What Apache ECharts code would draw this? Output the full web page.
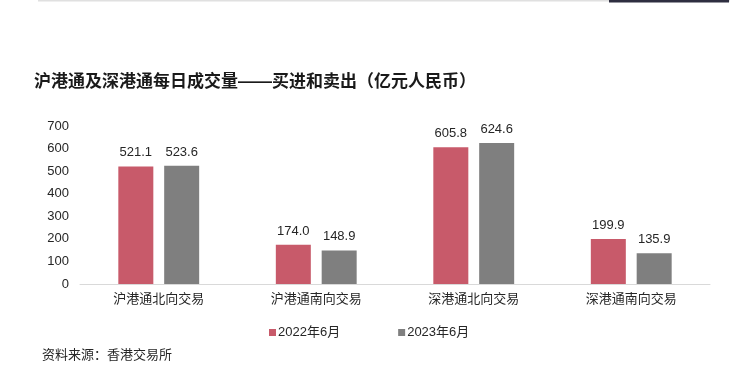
<!DOCTYPE html>
<html><head><meta charset="utf-8">
<script src="https://cdn.jsdelivr.net/npm/echarts@6/dist/echarts.min.js"></script>
<style>html,body{margin:0;padding:0;background:#fff}#c{width:750px;height:391px}</style>
</head><body><div id="c"></div>
<script>
const categories = ['沪港通北向交易','沪港通南向交易','深港通北向交易','深港通南向交易'];
const seriesNames = ['2022年6月','2023年6月'];
const values2022 = [521.1, 174.0, 605.8, 199.9];
const values2023 = [523.6, 148.9, 624.6, 135.9];
const titleText = '沪港通及深港通每日成交量——买进和卖出（亿元人民币）';
const sourceText = '资料来源：香港交易所';
const colors = ['#C85A6A', '#7F7F7F'];
const font = '"Liberation Sans", "Noto Sans CJK SC", Arial, sans-serif';

const chart = echarts.init(document.getElementById('c'));
function mk(name, data, color){
  return {name, type:'bar', data, barWidth:35, barGap:'31%',
    itemStyle:{color},
    label:{show:true, position:'top', distance:7, color:'#262626', fontSize:13, fontFamily:font,
      formatter:p=>p.value.toFixed(1)}};
}
chart.setOption({
  animation:false,
  title:{text:titleText, left:29, top:69, textStyle:{fontSize:17, fontWeight:'bold', color:'#1a1a1a', fontFamily:font}},
  legend:{bottom:47, left:264, itemGap:58, itemWidth:7, itemHeight:7, icon:'rect',
    textStyle:{fontSize:13, color:'#262626', fontFamily:font, padding:[0,0,0,-3]}, data:seriesNames},
  grid:{left:80, right:40, top:126, bottom:107, containLabel:false},
  xAxis:{type:'category', data:categories,
    axisLine:{lineStyle:{color:'#D9D9D9', width:1}}, axisTick:{show:false},
    axisLabel:{fontSize:13, color:'#262626', margin:9, fontFamily:font}},
  yAxis:{type:'value', min:0, max:700, interval:100,
    axisLine:{show:false}, axisTick:{show:false}, splitLine:{show:false},
    axisLabel:{fontSize:13, color:'#262626', margin:11, fontFamily:font}},
  series:[mk(seriesNames[0], values2022, colors[0]), mk(seriesNames[1], values2023, colors[1])],
  graphic:[
    {type:'rect', shape:{x:38, y:0, width:692, height:1.5}, style:{fill:'#E0E0E0'}},
    {type:'rect', shape:{x:609, y:0, width:120, height:2.5}, style:{fill:'#2E2E40'}},
    {type:'text', left:42, top:349, style:{text:sourceText, fontSize:13, fill:'#262626', fontFamily:font}}
  ]
});
</script></body></html>
